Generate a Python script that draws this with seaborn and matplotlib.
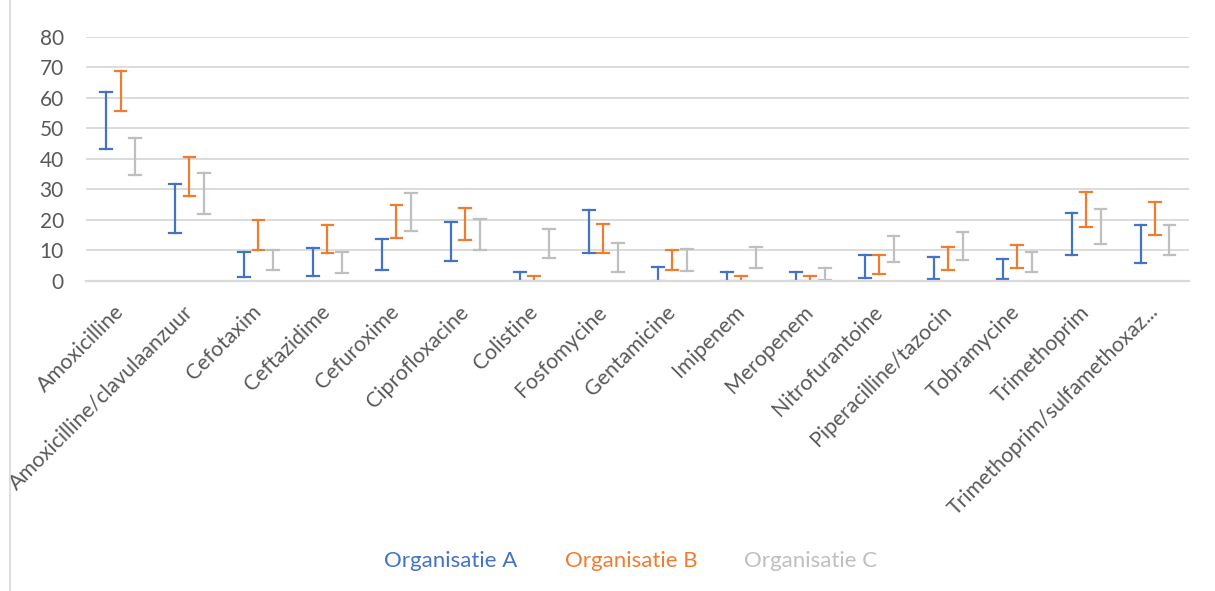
import numpy as np
import pandas as pd
import matplotlib
matplotlib.use("Agg")
import matplotlib.pyplot as plt
import matplotlib.transforms as mtransforms
import seaborn as sns

# DATA

antibiotics = [
    "Amoxicilline", "Amoxicilline/clavulaanzuur", "Cefotaxim", "Ceftazidime",
    "Cefuroxime", "Ciprofloxacine", "Colistine", "Fosfomycine", "Gentamicine",
    "Imipenem", "Meropenem", "Nitrofurantoine", "Piperacilline/tazocin",
    "Tobramycine", "Trimethoprim", "Trimethoprim/sulfamethoxaz...",
]

organisations = ["Organisatie A", "Organisatie B", "Organisatie C"]

low_a = [43.1, 15.7, 1.4, 1.7, 3.5, 6.7, 0.0, 9.3, 0.0, 0.0, 0.0, 0.9, 0.7, 0.7, 8.6, 6.0]
high_a = [61.9, 31.8, 9.6, 10.7, 13.8, 19.2, 3.1, 23.1, 4.6, 3.1, 3.1, 8.5, 7.7, 7.2, 22.3, 18.2]

low_b = [55.7, 27.7, 10.3, 9.2, 14.1, 13.4, 0.0, 9.2, 3.5, 0.0, 0.0, 2.3, 3.6, 4.4, 17.7, 15.0]
high_b = [68.8, 40.6, 20.0, 18.4, 24.9, 24.0, 1.6, 18.7, 10.3, 1.6, 1.6, 8.5, 11.1, 11.9, 29.2, 25.9]

low_c = [34.6, 21.8, 3.5, 2.7, 16.5, 10.3, 7.6, 3.1, 3.4, 4.1, 0.3, 6.1, 7.0, 2.8, 12.2, 8.5]
high_c = [46.9, 35.4, 10.3, 9.4, 28.8, 20.2, 17.0, 12.3, 10.6, 11.0, 4.3, 14.8, 16.2, 9.4, 23.6, 18.2]

colors = ["#4472C4", "#ED7D31", "#BFBFBF"]

# LONG TABLE: each interval = two rows (low, high), min-max via pi 100

rows = []
for org, lows, highs in zip(organisations, [low_a, low_b, low_c], [high_a, high_b, high_c]):
    for ab, lo, hi in zip(antibiotics, lows, highs):
        rows.append({"antibiotic": ab, "organisation": org, "value": lo})
        rows.append({"antibiotic": ab, "organisation": org, "value": hi})
df = pd.DataFrame(rows)

# PLOT

fig = plt.figure(figsize=(12.15, 5.91), dpi=100)
ax = fig.add_axes([0.0708, 0.5245, 0.9082, 0.4135])

sns.pointplot(
    data=df,
    x="antibiotic",
    y="value",
    hue="organisation",
    order=antibiotics,
    hue_order=organisations,
    palette=colors,
    estimator="mean",
    errorbar=("pi", 100),
    dodge=0.42,
    capsize=0.17,
    linestyle="none",
    markersize=0,
    err_kws={"linewidth": 1.6},
    ax=ax,
)

ax.legend_.remove()
ax.set_xlim(-0.5, len(antibiotics) - 0.5)
ax.set_ylim(0, 80)
ax.set_yticks(range(0, 81, 10))
ax.set_xlabel("")
ax.set_ylabel("")

ax.grid(axis="y", color="#D9D9D9", linewidth=1.3)
ax.set_axisbelow(True)
for side in ["top", "right", "left"]:
    ax.spines[side].set_visible(False)
ax.spines["bottom"].set_color("#D9D9D9")
ax.spines["bottom"].set_linewidth(1.6)

ax.tick_params(axis="both", length=0, colors="#595959")
ax.tick_params(axis="y", labelsize=15, pad=16)
ax.tick_params(axis="x", labelsize=15.3, pad=20)
shift = mtransforms.ScaledTranslation(0, 0, fig.dpi_scale_trans)
for lab in ax.get_xticklabels():
    lab.set_rotation(45)
    lab.set_ha("right")
    lab.set_va("center")
    lab.set_rotation_mode("anchor")
    lab.set_color("#595959")
    lab.set_family("Lato")
    lab.set_transform(lab.get_transform() + shift)
plt.setp(ax.get_yticklabels(), family="Lato")

# legend as coloured text
legend_x = [384, 565, 744]
for org, col, xp in zip(organisations, colors, legend_x):
    fig.text(xp / 1215, 1 - 561 / 591, org, color=col, fontsize=16,
             family="Lato", va="center", ha="left")

# chart border (left edge)
fig.add_artist(plt.Line2D([10 / 1215, 10 / 1215], [0, 1], color="#D9D9D9", linewidth=1.2))

fig.savefig("out.png", dpi=100)
